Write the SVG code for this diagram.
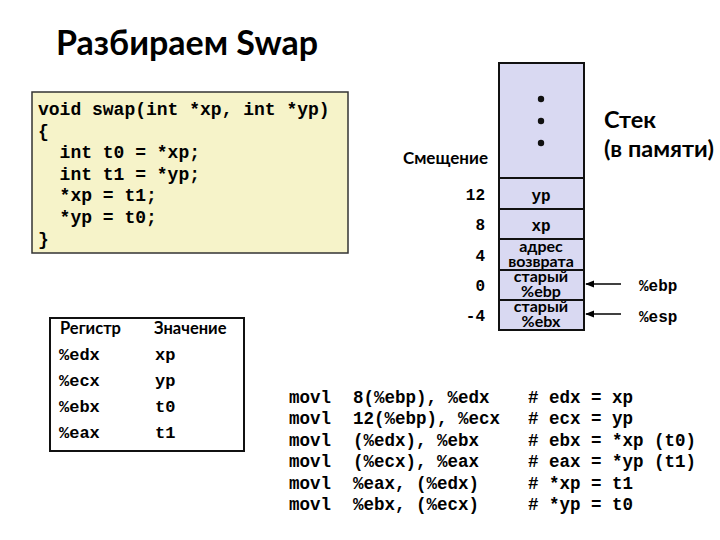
<svg xmlns="http://www.w3.org/2000/svg" width="720" height="540" viewBox="0 0 720 540">
<defs>
<style>
.title{font-family:Lato,"Open Sans","Liberation Sans",sans-serif;font-weight:bold;font-size:34px;fill:#000}
.code{font-family:"Liberation Mono","Courier New",monospace;font-weight:bold;font-size:18px;fill:#000;white-space:pre}
.asm{font-family:"Liberation Mono","Courier New",monospace;font-weight:bold;font-size:17.5px;fill:#000;white-space:pre}
.mono{font-family:"Liberation Mono","Courier New",monospace;font-weight:bold;font-size:16px;fill:#000}
.reg{font-family:"Liberation Mono","Courier New",monospace;font-weight:bold;font-size:17px;fill:#000}
.sans{font-family:Lato,"Open Sans","Liberation Sans",sans-serif;font-weight:bold;fill:#000}
.ct{font-family:Lato,"Open Sans","Liberation Sans",sans-serif;font-weight:bold;font-size:16px;fill:#000;text-anchor:middle}
.cell{fill:#d9d9f2;stroke:#111;stroke-width:2}
.arrow{stroke:#000;stroke-width:1.5;fill:none;marker-end:url(#ah)}
</style>
<marker id="ah" viewBox="0 0 10 10" refX="9" refY="5" markerWidth="6" markerHeight="6" orient="auto" markerUnits="strokeWidth">
<path d="M0,1 L10,5 L0,9 z" fill="#000"/>
</marker>
</defs>
<rect width="720" height="540" fill="#fff"/>
<g id="title"><text class="title" x="56" y="55">Разбираем Swap</text></g>

<g id="code">
<rect x="32" y="92" width="316" height="161" fill="#f6f3c9" stroke="#333" stroke-width="1.5"/>
<text class="code" x="38" y="115">void swap(int *xp, int *yp)</text>
<text class="code" x="38" y="137">{</text>
<text class="code" x="38" y="158">  int t0 = *xp;</text>
<text class="code" x="38" y="180">  int t1 = *yp;</text>
<text class="code" x="38" y="201">  *xp = t1;</text>
<text class="code" x="38" y="223">  *yp = t0;</text>
<text class="code" x="38" y="245">}</text>
</g>

<g id="stack">
<rect class="cell" x="499" y="63" width="85" height="115"/>
<circle cx="541" cy="99" r="3.2" fill="#111"/>
<circle cx="541" cy="121" r="3.2" fill="#111"/>
<circle cx="541" cy="143" r="3.2" fill="#111"/>
</g>
<g id="cell-yp"><rect class="cell" x="499" y="178" width="85" height="31"/><text class="mono" x="541" y="201" text-anchor="middle">yp</text></g>
<g id="cell-xp"><rect class="cell" x="499" y="209" width="85" height="30"/><text class="mono" x="541" y="231" text-anchor="middle">xp</text></g>
<g id="cell-ret"><rect class="cell" x="499" y="239" width="85" height="31"/><text class="ct" x="541" y="252">адрес</text><text class="ct" x="541" y="267">возврата</text></g>
<g id="cell-ebp"><rect class="cell" x="499" y="270" width="85" height="30"/><text class="ct" x="541" y="282">старый</text><text class="ct" x="541" y="297">%ebp</text></g>
<g id="cell-ebx"><rect class="cell" x="499" y="300" width="85" height="30"/><text class="ct" x="541" y="312">старый</text><text class="ct" x="541" y="327">%ebx</text></g>

<g id="stack-label">
<text class="sans" font-size="23.5" x="604" y="128">Стек</text>
<text class="sans" font-size="23.5" x="604" y="157">(в памяти)</text>
</g>

<g id="offsets">
<text class="sans" font-size="17" x="488" y="164" text-anchor="end">Смещение</text>
<text class="mono" x="485" y="200" text-anchor="end">12</text>
<text class="mono" x="485" y="230" text-anchor="end">8</text>
<text class="mono" x="485" y="261" text-anchor="end">4</text>
<text class="mono" x="485" y="291" text-anchor="end">0</text>
<text class="mono" x="485" y="321" text-anchor="end">-4</text>
</g>

<g id="reg-labels">
<text class="mono" x="639" y="291">%ebp</text>
<text class="mono" x="639" y="322">%esp</text>
</g>

<g id="connectors">
<line class="arrow" x1="621" y1="284" x2="586" y2="284"/>
<line class="arrow" x1="621" y1="314" x2="586" y2="314"/>
</g>

<g id="registers">
<rect x="50" y="318" width="194" height="133" fill="#fff" stroke="#111" stroke-width="2"/>
<text class="sans" font-size="16.5" x="60" y="334">Регистр</text>
<text class="sans" font-size="16.5" x="154" y="334">Значение</text>
<text class="reg" x="59" y="360">%edx</text><text class="reg" x="155" y="360">xp</text>
<text class="reg" x="59" y="386">%ecx</text><text class="reg" x="155" y="386">yp</text>
<text class="reg" x="59" y="412">%ebx</text><text class="reg" x="155" y="412">t0</text>
<text class="reg" x="59" y="438">%eax</text><text class="reg" x="155" y="438">t1</text>
</g>

<g id="asm">
<text class="asm" x="289" y="403">movl</text><text class="asm" x="353" y="403">8(%ebp), %edx</text><text class="asm" x="528" y="403"># edx = xp</text>
<text class="asm" x="289" y="424">movl</text><text class="asm" x="353" y="424">12(%ebp), %ecx</text><text class="asm" x="528" y="424"># ecx = yp</text>
<text class="asm" x="289" y="446">movl</text><text class="asm" x="353" y="446">(%edx), %ebx</text><text class="asm" x="528" y="446"># ebx = *xp (t0)</text>
<text class="asm" x="289" y="467">movl</text><text class="asm" x="353" y="467">(%ecx), %eax</text><text class="asm" x="528" y="467"># eax = *yp (t1)</text>
<text class="asm" x="289" y="489">movl</text><text class="asm" x="353" y="489">%eax, (%edx)</text><text class="asm" x="528" y="489"># *xp = t1</text>
<text class="asm" x="289" y="510">movl</text><text class="asm" x="353" y="510">%ebx, (%ecx)</text><text class="asm" x="528" y="510"># *yp = t0</text>
</g>
</svg>
